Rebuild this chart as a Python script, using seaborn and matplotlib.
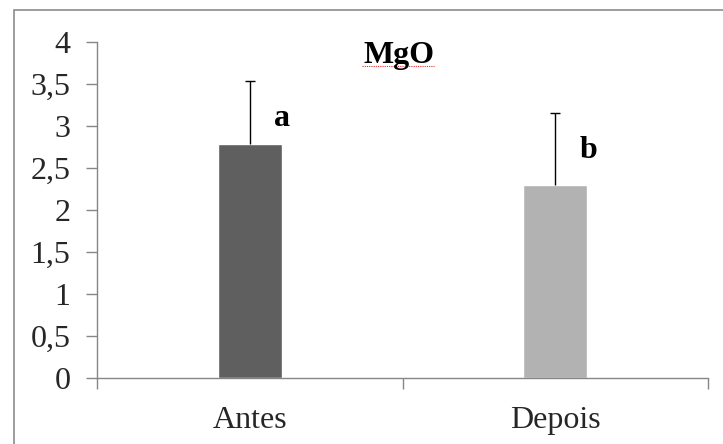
import matplotlib
matplotlib.use("Agg")
import matplotlib.pyplot as plt
import seaborn as sns
import pandas as pd
from matplotlib.patches import Rectangle
from matplotlib.ticker import FixedLocator, FuncFormatter

categories = ["Antes", "Depois"]
means = [2.78, 2.30]
err_up = [0.76, 0.86]
letters = ["a", "b"]
bar_colors = ["#5f5f5f", "#b2b2b2"]
title = "MgO"
yticks = [0, 0.5, 1, 1.5, 2, 2.5, 3, 3.5, 4]

sns.set_theme(style="white")
plt.rcParams["font.family"] = ["Liberation Serif", "DejaVu Serif"]

df = pd.DataFrame({"cat": categories, "val": means})

fig = plt.figure(figsize=(7.23, 4.44), dpi=100)
ax = fig.add_axes([97/723, 1-378/444, (708-97)/723, (378-42)/444])

sns.barplot(data=df, x="cat", y="val", hue="cat", palette=bar_colors,
            width=0.21, legend=False, ax=ax, saturation=1, errorbar=None)

xs = list(range(len(categories)))
tops = [m + e for m, e in zip(means, err_up)]
ax.errorbar(xs, means, yerr=[[0]*len(means), err_up],
            fmt="none", ecolor="black", elinewidth=1.0, capsize=0)
ax.plot(xs, tops, linestyle="none", marker="_", markersize=7.5,
        markeredgewidth=1.0, color="black")

for i, (t, l) in enumerate(zip(tops, letters)):
    ax.text(i + 0.08, t - 0.54, l, fontsize=23, fontweight="bold",
            ha="left", va="baseline", color="black")

ax.set_xlim(-0.5, 1.5)
ax.set_ylim(0, 4)
ax.set_yticks(yticks)
ax.yaxis.set_major_formatter(FuncFormatter(
    lambda v, p: (f"{v:g}").replace(".", ",")))
ax.set_xticks(xs)
ax.set_xticklabels(categories)
ax.xaxis.set_minor_locator(FixedLocator([-0.5, 0.5, 1.5]))
ax.tick_params(axis="x", which="major", length=0, pad=20, labelsize=23)
ax.tick_params(axis="x", which="minor", length=8, width=1, color="#868686",
               direction="out", bottom=True)
ax.tick_params(axis="y", length=8, width=1, color="#868686", direction="out",
               left=True, labelsize=23, pad=11)
for s in ["top", "right"]:
    ax.spines[s].set_visible(False)
for s in ["left", "bottom"]:
    ax.spines[s].set_color("#868686")
    ax.spines[s].set_linewidth(1)
ax.set_xlabel("")
ax.set_ylabel("")

ax.text(0.494, 0.9375, title, transform=ax.transAxes, fontsize=23,
        fontweight="bold", ha="center", va="baseline", color="black")
# spell-check style squiggle under the title
ax.plot([0.434, 0.552], [0.928, 0.928], transform=ax.transAxes,
        color="#e03030", linewidth=0.8, linestyle=(0, (1, 1)))

fig.patches.append(Rectangle((14/723, -0.1), 1.2, 1 - 10/444 + 0.1,
                             transform=fig.transFigure, fill=False,
                             edgecolor="#8c8c8c", linewidth=1.2))

fig.savefig("out.png", dpi=100)
